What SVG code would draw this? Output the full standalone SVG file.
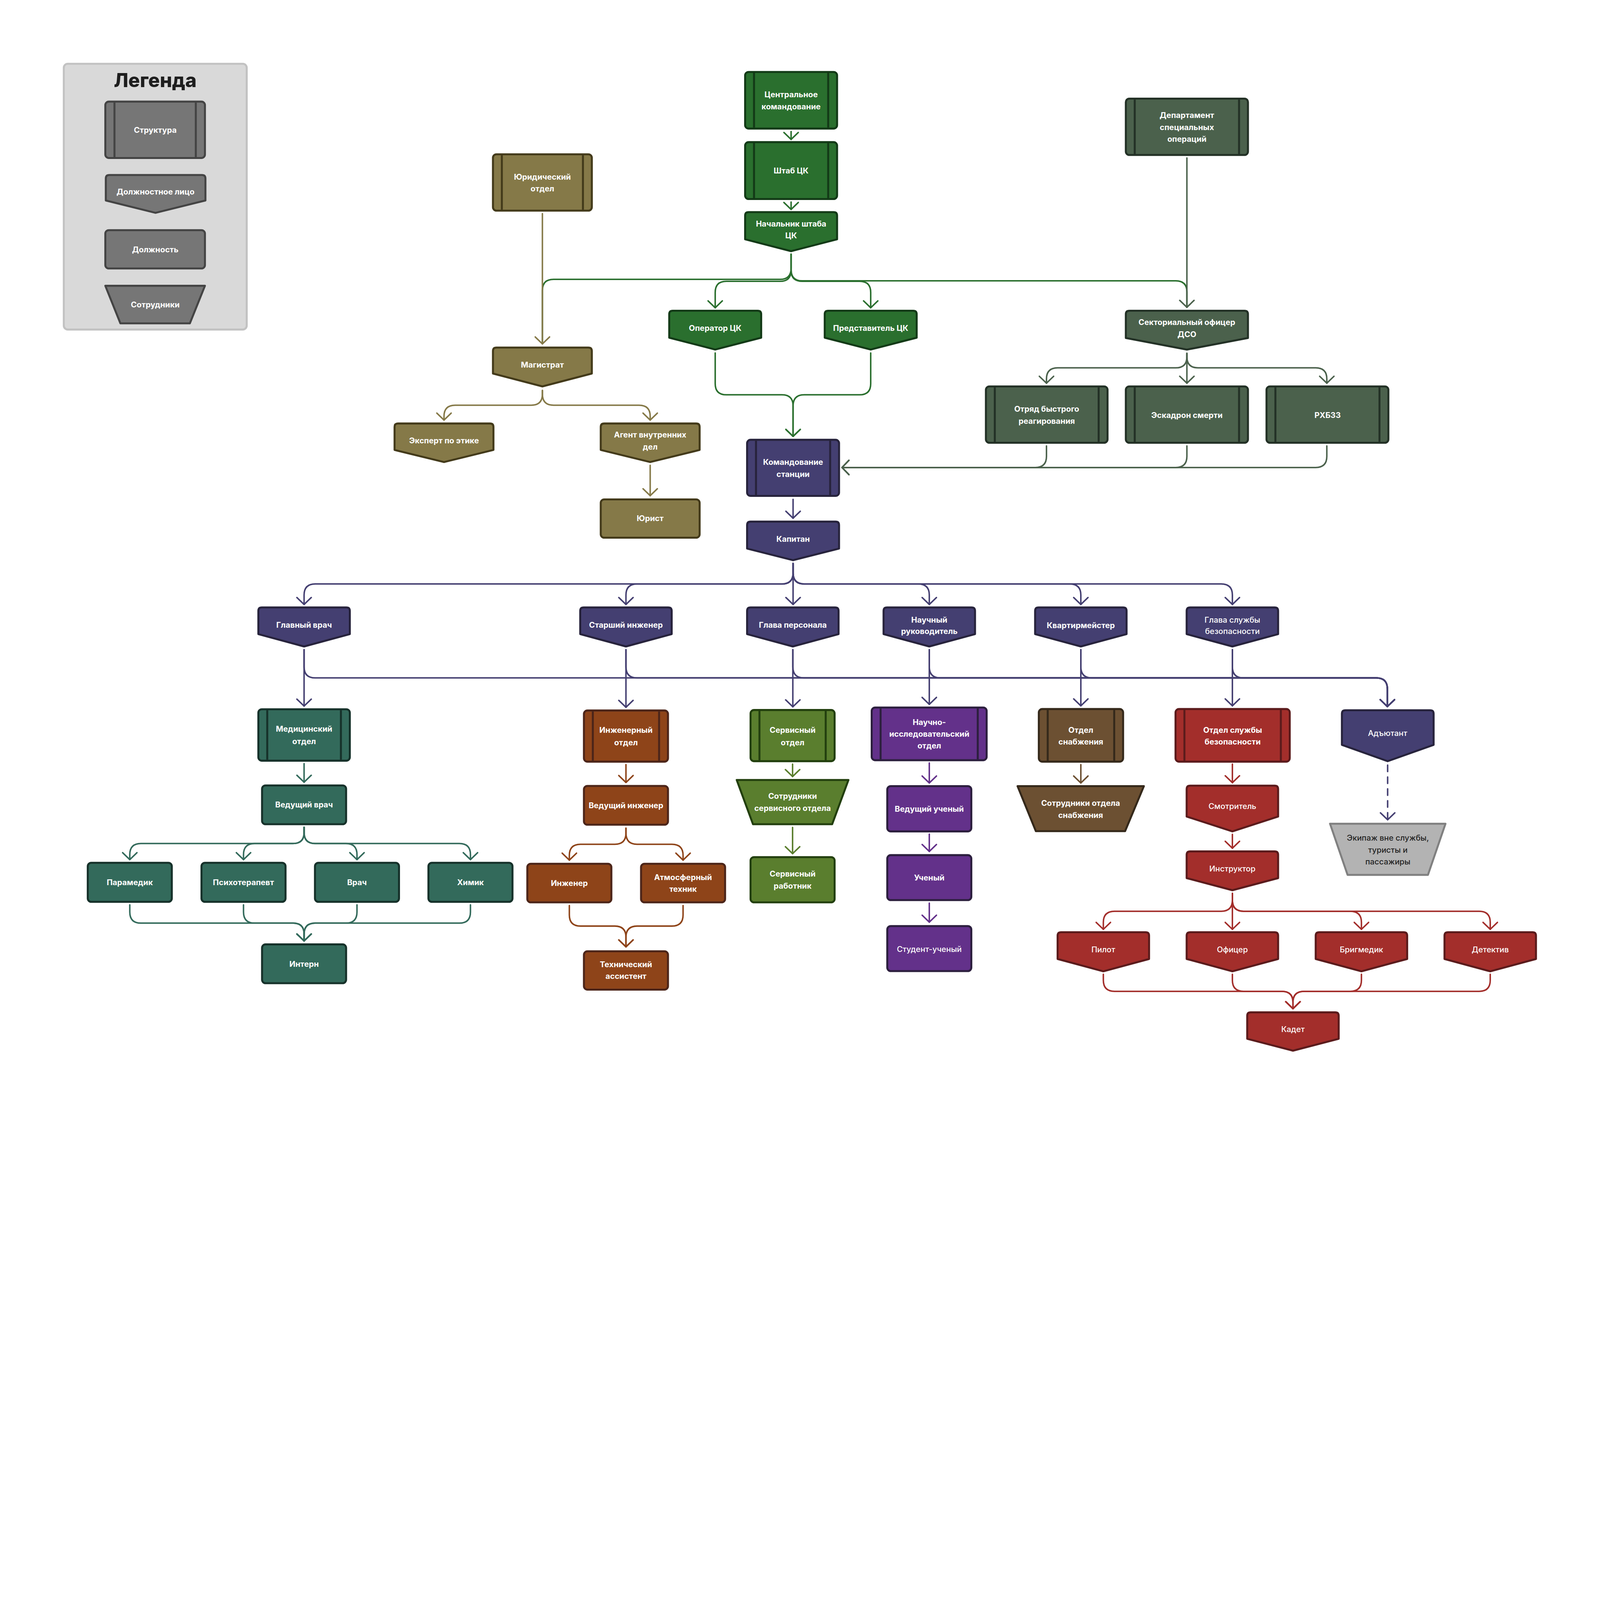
<svg xmlns="http://www.w3.org/2000/svg" width="6472" height="4509" viewBox="0 0 6472 4509" preserveAspectRatio="xMinYMin meet" style="width:100vw;height:100vh;display:block">
<style>
.t{font-family:Inter,"Noto Sans","Liberation Sans",sans-serif;font-size:32px;font-weight:700;fill:#fff;text-anchor:middle}
.r{font-weight:500}
.d{fill:#222222}
.s{stroke-width:8;stroke-linejoin:round}
.c{fill:none;stroke-width:6;stroke-linecap:round;stroke-linejoin:round}
.gA{fill:#2a6f2e;stroke:#133a17}
.gB{fill:#4b614c;stroke:#233126}
.gC{fill:#857948;stroke:#433a1a}
.gD{fill:#443f71;stroke:#27233c}
.gE{fill:#336a5b;stroke:#16312a}
.gF{fill:#8e4419;stroke:#4c2519}
.gG{fill:#5a7e2e;stroke:#223f0e}
.gH{fill:#63318a;stroke:#2c1f3e}
.gI{fill:#6c5032;stroke:#35291b}
.gJ{fill:#a32e2b;stroke:#5b1b1c}
.gL{fill:#767676;stroke:#444444}
.gK{fill:#b3b3b3;stroke:#808080}
.kA{stroke:#2a6f2e}.kB{stroke:#4b614c}.kC{stroke:#857948}.kD{stroke:#443f71}.kE{stroke:#336a5b}
.kF{stroke:#8e4419}.kG{stroke:#5a7e2e}.kH{stroke:#63318a}.kI{stroke:#6c5032}.kJ{stroke:#a32e2b}
</style>
<defs>
<marker id="mA" markerUnits="userSpaceOnUse" markerWidth="80" markerHeight="80" viewBox="-40 -40 80 80" refX="0" refY="0" orient="auto" overflow="visible"><path d="M-28 -29L0 0L-28 29" fill="none" stroke="#2a6f2e" stroke-width="6" stroke-linecap="round" stroke-linejoin="round"/></marker>
<marker id="mB" markerUnits="userSpaceOnUse" markerWidth="80" markerHeight="80" viewBox="-40 -40 80 80" refX="0" refY="0" orient="auto" overflow="visible"><path d="M-28 -29L0 0L-28 29" fill="none" stroke="#4b614c" stroke-width="6" stroke-linecap="round" stroke-linejoin="round"/></marker>
<marker id="mC" markerUnits="userSpaceOnUse" markerWidth="80" markerHeight="80" viewBox="-40 -40 80 80" refX="0" refY="0" orient="auto" overflow="visible"><path d="M-28 -29L0 0L-28 29" fill="none" stroke="#857948" stroke-width="6" stroke-linecap="round" stroke-linejoin="round"/></marker>
<marker id="mD" markerUnits="userSpaceOnUse" markerWidth="80" markerHeight="80" viewBox="-40 -40 80 80" refX="0" refY="0" orient="auto" overflow="visible"><path d="M-28 -29L0 0L-28 29" fill="none" stroke="#443f71" stroke-width="6" stroke-linecap="round" stroke-linejoin="round"/></marker>
<marker id="mE" markerUnits="userSpaceOnUse" markerWidth="80" markerHeight="80" viewBox="-40 -40 80 80" refX="0" refY="0" orient="auto" overflow="visible"><path d="M-28 -29L0 0L-28 29" fill="none" stroke="#336a5b" stroke-width="6" stroke-linecap="round" stroke-linejoin="round"/></marker>
<marker id="mF" markerUnits="userSpaceOnUse" markerWidth="80" markerHeight="80" viewBox="-40 -40 80 80" refX="0" refY="0" orient="auto" overflow="visible"><path d="M-28 -29L0 0L-28 29" fill="none" stroke="#8e4419" stroke-width="6" stroke-linecap="round" stroke-linejoin="round"/></marker>
<marker id="mG" markerUnits="userSpaceOnUse" markerWidth="80" markerHeight="80" viewBox="-40 -40 80 80" refX="0" refY="0" orient="auto" overflow="visible"><path d="M-28 -29L0 0L-28 29" fill="none" stroke="#5a7e2e" stroke-width="6" stroke-linecap="round" stroke-linejoin="round"/></marker>
<marker id="mH" markerUnits="userSpaceOnUse" markerWidth="80" markerHeight="80" viewBox="-40 -40 80 80" refX="0" refY="0" orient="auto" overflow="visible"><path d="M-28 -29L0 0L-28 29" fill="none" stroke="#63318a" stroke-width="6" stroke-linecap="round" stroke-linejoin="round"/></marker>
<marker id="mI" markerUnits="userSpaceOnUse" markerWidth="80" markerHeight="80" viewBox="-40 -40 80 80" refX="0" refY="0" orient="auto" overflow="visible"><path d="M-28 -29L0 0L-28 29" fill="none" stroke="#6c5032" stroke-width="6" stroke-linecap="round" stroke-linejoin="round"/></marker>
<marker id="mJ" markerUnits="userSpaceOnUse" markerWidth="80" markerHeight="80" viewBox="-40 -40 80 80" refX="0" refY="0" orient="auto" overflow="visible"><path d="M-28 -29L0 0L-28 29" fill="none" stroke="#a32e2b" stroke-width="6" stroke-linecap="round" stroke-linejoin="round"/></marker>
</defs>
<rect width="6472" height="4509" fill="#ffffff"/>

<g id="legend">
<rect x="258" y="258" width="740" height="1075" rx="16" fill="#d9d9d9" stroke="#c2c2c2" stroke-width="8"/>
<text x="628" y="352" class="t" style="font-size:78px;font-weight:800;fill:#1e1e1e">Легенда</text>
<rect class="s gL" x="426" y="411" width="403" height="228" rx="14"/>
<path class="s gL" d="M463 411V639M792 411V639"/>
<text class="t" x="628" y="537">Структура</text>
<path class="s gL" d="M428 722Q428 708 442 708H817Q831 708 831 722V811L629 861L428 811Z"/>
<text class="t" x="629" y="787">Должностное лицо</text>
<rect class="s gL" x="426" y="931" width="403" height="155" rx="14"/>
<text class="t" x="628" y="1020">Должность</text>
<path class="s gL" d="M426 1156H829L768 1308H487Z"/>
<text class="t" x="628" y="1244">Сотрудники</text>
</g>

<g id="connectors">
<path class="c kA" d="M3200 1028V1085Q3200 1130 3155 1130H2239Q2194 1130 2194 1175V1391"/>
<path class="c kA" d="M3200 1028V1091Q3200 1136 3245 1136H4756Q4801 1136 4801 1181V1243"/>
<path class="c kA" marker-end="url(#mA)" d="M3200 532V564"/>
<path class="c kA" marker-end="url(#mA)" d="M3200 817V847"/>
<path class="c kA" marker-end="url(#mA)" d="M3200 1028V1093Q3200 1138 3155 1138H2938Q2893 1138 2893 1183V1245"/>
<path class="c kA" marker-end="url(#mA)" d="M3200 1028V1093Q3200 1138 3245 1138H3477Q3522 1138 3522 1183V1245"/>
<path class="c kA" marker-end="url(#mA)" d="M2893 1428V1552Q2893 1597 2938 1597H3163Q3208 1597 3208 1642V1765"/>
<path class="c kA" marker-end="url(#mA)" d="M3522 1428V1552Q3522 1597 3477 1597H3253Q3208 1597 3208 1642V1765"/>

<path class="c kB" marker-end="url(#mB)" d="M4801 639V1243"/>
<path class="c kB" marker-end="url(#mB)" d="M4801 1429V1443Q4801 1488 4756 1488H4278Q4233 1488 4233 1533V1550"/>
<path class="c kB" marker-end="url(#mB)" d="M4801 1429V1550"/>
<path class="c kB" marker-end="url(#mB)" d="M4801 1429V1443Q4801 1488 4846 1488H5322Q5367 1488 5367 1533V1550"/>
<path class="c kB" marker-end="url(#mB)" d="M4233 1804V1846Q4233 1891 4188 1891H3406"/>
<path class="c kB" marker-end="url(#mB)" d="M4801 1804V1846Q4801 1891 4756 1891H3406"/>
<path class="c kB" marker-end="url(#mB)" d="M5367 1804V1846Q5367 1891 5322 1891H3406"/>

<path class="c kC" marker-end="url(#mC)" d="M2194 864V1391"/>
<path class="c kC" marker-end="url(#mC)" d="M2194 1579V1594Q2194 1639 2149 1639H1841Q1796 1639 1796 1684V1699"/>
<path class="c kC" marker-end="url(#mC)" d="M2194 1579V1594Q2194 1639 2239 1639H2585Q2630 1639 2630 1684V1699"/>
<path class="c kC" marker-end="url(#mC)" d="M2630 1882V2005"/>

<path class="c kD" marker-end="url(#mD)" d="M3208 2020V2096"/>
<path class="c kD" marker-end="url(#mD)" d="M3208 2279V2317Q3208 2362 3163 2362H1275Q1230 2362 1230 2407V2445"/>
<path class="c kD" marker-end="url(#mD)" d="M3208 2279V2317Q3208 2362 3163 2362H2577Q2532 2362 2532 2407V2445"/>
<path class="c kD" marker-end="url(#mD)" d="M3208 2279V2445"/>
<path class="c kD" marker-end="url(#mD)" d="M3208 2279V2317Q3208 2362 3253 2362H3714Q3759 2362 3759 2407V2445"/>
<path class="c kD" marker-end="url(#mD)" d="M3208 2279V2317Q3208 2362 3253 2362H4327Q4372 2362 4372 2407V2445"/>
<path class="c kD" marker-end="url(#mD)" d="M3208 2279V2317Q3208 2362 3253 2362H4940Q4985 2362 4985 2407V2445"/>
<path class="c kD" marker-end="url(#mD)" d="M1230 2628V2856"/>
<path class="c kD" marker-end="url(#mD)" d="M2532 2628V2861"/>
<path class="c kD" marker-end="url(#mD)" d="M3207 2628V2859"/>
<path class="c kD" marker-end="url(#mD)" d="M3759 2628V2849"/>
<path class="c kD" marker-end="url(#mD)" d="M4372 2628V2855"/>
<path class="c kD" marker-end="url(#mD)" d="M4985 2628V2855"/>
<path class="c kD" marker-end="url(#mD)" d="M1230 2628V2697Q1230 2742 1275 2742H5567Q5612 2742 5612 2787V2858"/>
<path class="c kD" marker-end="url(#mD)" d="M2532 2628V2697Q2532 2742 2577 2742H5567Q5612 2742 5612 2787V2858"/>
<path class="c kD" marker-end="url(#mD)" d="M3207 2628V2697Q3207 2742 3252 2742H5567Q5612 2742 5612 2787V2858"/>
<path class="c kD" marker-end="url(#mD)" d="M3759 2628V2697Q3759 2742 3804 2742H5567Q5612 2742 5612 2787V2858"/>
<path class="c kD" marker-end="url(#mD)" d="M4372 2628V2697Q4372 2742 4417 2742H5567Q5612 2742 5612 2787V2858"/>
<path class="c kD" marker-end="url(#mD)" d="M4985 2628V2697Q4985 2742 5030 2742H5567Q5612 2742 5612 2787V2858"/>
<path class="c kD" marker-end="url(#mD)" stroke-dasharray="26 22" d="M5613 3095V3316"/>

<path class="c kE" marker-end="url(#mE)" d="M1230 3089V3164"/>
<path class="c kE" marker-end="url(#mE)" d="M1230 3346V3367Q1230 3412 1185 3412H570Q525 3412 525 3457V3477"/>
<path class="c kE" marker-end="url(#mE)" d="M1230 3346V3367Q1230 3412 1185 3412H1030Q985 3412 985 3457V3477"/>
<path class="c kE" marker-end="url(#mE)" d="M1230 3346V3367Q1230 3412 1275 3412H1399Q1444 3412 1444 3457V3477"/>
<path class="c kE" marker-end="url(#mE)" d="M1230 3346V3367Q1230 3412 1275 3412H1858Q1903 3412 1903 3457V3477"/>
<path class="c kE" marker-end="url(#mE)" d="M525 3660V3689Q525 3734 570 3734H1185Q1230 3734 1230 3779V3806"/>
<path class="c kE" marker-end="url(#mE)" d="M985 3660V3689Q985 3734 1030 3734H1185Q1230 3734 1230 3779V3806"/>
<path class="c kE" marker-end="url(#mE)" d="M1444 3660V3689Q1444 3734 1399 3734H1275Q1230 3734 1230 3779V3806"/>
<path class="c kE" marker-end="url(#mE)" d="M1903 3660V3689Q1903 3734 1858 3734H1275Q1230 3734 1230 3779V3806"/>

<path class="c kF" marker-end="url(#mF)" d="M2532 3093V3165"/>
<path class="c kF" marker-end="url(#mF)" d="M2532 3350V3370Q2532 3415 2487 3415H2348Q2303 3415 2303 3460V3479"/>
<path class="c kF" marker-end="url(#mF)" d="M2532 3350V3370Q2532 3415 2577 3415H2718Q2763 3415 2763 3460V3479"/>
<path class="c kF" marker-end="url(#mF)" d="M2303 3663V3701Q2303 3746 2348 3746H2487Q2532 3746 2532 3791V3830"/>
<path class="c kF" marker-end="url(#mF)" d="M2763 3663V3701Q2763 3746 2718 3746H2577Q2532 3746 2532 3791V3830"/>

<path class="c kG" marker-end="url(#mG)" d="M3206 3091V3141"/>
<path class="c kG" marker-end="url(#mG)" d="M3206 3347V3453"/>

<path class="c kH" marker-end="url(#mH)" d="M3759 3086V3167"/>
<path class="c kH" marker-end="url(#mH)" d="M3759 3374V3444"/>
<path class="c kH" marker-end="url(#mH)" d="M3759 3653V3730"/>

<path class="c kI" marker-end="url(#mI)" d="M4372 3093V3167"/>

<path class="c kJ" marker-end="url(#mJ)" d="M4985 3091V3166"/>
<path class="c kJ" marker-end="url(#mJ)" d="M4985 3375V3431"/>
<path class="c kJ" marker-end="url(#mJ)" d="M4985 3614V3641Q4985 3686 4940 3686H4508Q4463 3686 4463 3731V3759"/>
<path class="c kJ" marker-end="url(#mJ)" d="M4985 3614V3759"/>
<path class="c kJ" marker-end="url(#mJ)" d="M4985 3614V3641Q4985 3686 5030 3686H5462Q5507 3686 5507 3731V3759"/>
<path class="c kJ" marker-end="url(#mJ)" d="M4985 3614V3641Q4985 3686 5030 3686H5983Q6028 3686 6028 3731V3759"/>
<path class="c kJ" marker-end="url(#mJ)" d="M4463 3941V3965Q4463 4010 4508 4010H5185Q5230 4010 5230 4055V4080"/>
<path class="c kJ" marker-end="url(#mJ)" d="M4985 3941V3965Q4985 4010 5030 4010H5185Q5230 4010 5230 4055V4080"/>
<path class="c kJ" marker-end="url(#mJ)" d="M5507 3941V3965Q5507 4010 5462 4010H5275Q5230 4010 5230 4055V4080"/>
<path class="c kJ" marker-end="url(#mJ)" d="M6028 3941V3965Q6028 4010 5983 4010H5275Q5230 4010 5230 4055V4080"/>
</g>

<g id="central-command"><rect class="s gA" x="3014" y="291" width="372" height="229" rx="14"/><path class="s gA" d="M3050 291V520M3350 291V520"/><text class="t" x="3200" y="393">Центральное</text><text class="t" x="3200" y="442">командование</text></g>
<g id="cc-staff"><rect class="s gA" x="3014" y="575" width="372" height="230" rx="14"/><path class="s gA" d="M3050 575V805M3350 575V805"/><text class="t" x="3200" y="702">Штаб ЦК</text></g>
<g id="cc-chief-of-staff"><path class="s gA" d="M3014 872Q3014 858 3028 858H3372Q3386 858 3386 872V968L3200 1016L3014 968Z"/><text class="t" x="3200" y="916">Начальник штаба</text><text class="t" x="3200" y="964">ЦК</text></g>
<g id="cc-operator"><path class="s gA" d="M2707 1271Q2707 1257 2721 1257H3065Q3079 1257 3079 1271V1366L2893 1414L2707 1366Z"/><text class="t" x="2893" y="1338">Оператор ЦК</text></g>
<g id="cc-representative"><path class="s gA" d="M3336 1271Q3336 1257 3350 1257H3694Q3708 1257 3708 1271V1366L3522 1414L3336 1366Z"/><text class="t" x="3522" y="1338">Представитель ЦК</text></g>

<g id="dso"><rect class="s gB" x="4554" y="399" width="494" height="228" rx="14"/><path class="s gB" d="M4590 399V627M5012 399V627"/><text class="t" x="4801" y="477">Департамент</text><text class="t" x="4801" y="526">специальных</text><text class="t" x="4801" y="574">операций</text></g>
<g id="dso-officer"><path class="s gB" d="M4554 1271Q4554 1257 4568 1257H5034Q5048 1257 5048 1271V1367L4801 1414L4554 1367Z"/><text class="t" x="4801" y="1314">Секториальный офицер</text><text class="t" x="4801" y="1363">ДСО</text></g>
<g id="rapid-response"><rect class="s gB" x="3988" y="1563" width="492" height="228" rx="14"/><path class="s gB" d="M4024 1563V1791M4444 1563V1791"/><text class="t" x="4234" y="1665">Отряд быстрого</text><text class="t" x="4234" y="1714">реагирования</text></g>
<g id="death-squad"><rect class="s gB" x="4554" y="1563" width="494" height="228" rx="14"/><path class="s gB" d="M4590 1563V1791M5012 1563V1791"/><text class="t" x="4801" y="1690">Эскадрон смерти</text></g>
<g id="rhbz"><rect class="s gB" x="5123" y="1563" width="493" height="228" rx="14"/><path class="s gB" d="M5159 1563V1791M5580 1563V1791"/><text class="t" x="5370" y="1690">РХБЗЗ</text></g>

<g id="legal-dept"><rect class="s gC" x="1994" y="624" width="400" height="228" rx="14"/><path class="s gC" d="M2030 624V852M2358 624V852"/><text class="t" x="2194" y="727">Юридический</text><text class="t" x="2194" y="774">отдел</text></g>
<g id="magistrate"><path class="s gC" d="M1994 1420Q1994 1406 2008 1406H2380Q2394 1406 2394 1420V1511L2194 1563L1994 1511Z"/><text class="t" x="2194" y="1487">Магистрат</text></g>
<g id="ethics-expert"><path class="s gC" d="M1596 1727Q1596 1713 1610 1713H1982Q1996 1713 1996 1727V1820L1796 1869L1596 1820Z"/><text class="t" x="1796" y="1794">Эксперт по этике</text></g>
<g id="ia-agent"><path class="s gC" d="M2430 1727Q2430 1713 2444 1713H2816Q2830 1713 2830 1727V1820L2630 1869L2430 1820Z"/><text class="t" x="2630" y="1770">Агент внутренних</text><text class="t" x="2630" y="1818">дел</text></g>
<g id="lawyer"><rect class="s gC" x="2430" y="2020" width="400" height="155" rx="14"/><text class="t" x="2630" y="2108">Юрист</text></g>

<g id="station-command"><rect class="s gD" x="3022" y="1779" width="372" height="227" rx="14"/><path class="s gD" d="M3058 1779V2006M3358 1779V2006"/><text class="t" x="3208" y="1881">Командование</text><text class="t" x="3208" y="1930">станции</text></g>
<g id="captain"><path class="s gD" d="M3022 2124Q3022 2110 3036 2110H3380Q3394 2110 3394 2124V2219L3208 2266L3022 2219Z"/><text class="t" x="3208" y="2191">Капитан</text></g>

<g id="cmo"><path class="s gD" d="M1045 2471Q1045 2457 1059 2457H1401Q1415 2457 1415 2471V2565L1230 2615L1045 2565Z"/><text class="t" x="1230" y="2539">Главный врач</text></g>
<g id="ce"><path class="s gD" d="M2347 2471Q2347 2457 2361 2457H2703Q2717 2457 2717 2471V2565L2532 2615L2347 2565Z"/><text class="t" x="2532" y="2539">Старший инженер</text></g>
<g id="hop"><path class="s gD" d="M3022 2471Q3022 2457 3036 2457H3378Q3392 2457 3392 2471V2565L3207 2615L3022 2565Z"/><text class="t" x="3207" y="2539">Глава персонала</text></g>
<g id="rd"><path class="s gD" d="M3574 2471Q3574 2457 3588 2457H3930Q3944 2457 3944 2471V2565L3759 2615L3574 2565Z"/><text class="t" x="3759" y="2518">Научный</text><text class="t" x="3759" y="2565">руководитель</text></g>
<g id="qm"><path class="s gD" d="M4187 2471Q4187 2457 4201 2457H4543Q4557 2457 4557 2471V2565L4372 2615L4187 2565Z"/><text class="t" x="4372" y="2540">Квартирмейстер</text></g>
<g id="hos"><path class="s gD" d="M4800 2471Q4800 2457 4814 2457H5156Q5170 2457 5170 2471V2565L4985 2615L4800 2565Z"/><text class="t r" x="4985" y="2518">Глава службы</text><text class="t r" x="4985" y="2565">безопасности</text></g>

<g id="medical-dept"><rect class="s gE" x="1045" y="2869" width="370" height="208" rx="14"/><path class="s gE" d="M1081 2869V3077M1379 2869V3077"/><text class="t" x="1230" y="2960">Медицинский</text><text class="t" x="1230" y="3010">отдел</text></g>
<g id="engineering-dept"><rect class="s gF" x="2362" y="2874" width="340" height="207" rx="14"/><path class="s gF" d="M2398 2874V3081M2666 2874V3081"/><text class="t" x="2532" y="2965">Инженерный</text><text class="t" x="2532" y="3014">отдел</text></g>
<g id="service-dept"><rect class="s gG" x="3036" y="2872" width="340" height="207" rx="14"/><path class="s gG" d="M3072 2872V3079M3340 2872V3079"/><text class="t" x="3206" y="2964">Сервисный</text><text class="t" x="3206" y="3014">отдел</text></g>
<g id="science-dept"><rect class="s gH" x="3526" y="2862" width="465" height="213" rx="14"/><path class="s gH" d="M3562 2862V3075M3955 2862V3075"/><text class="t" x="3759" y="2932">Научно-</text><text class="t" x="3759" y="2980">исследовательский</text><text class="t" x="3759" y="3028">отдел</text></g>
<g id="supply-dept"><rect class="s gI" x="4202" y="2868" width="341" height="213" rx="14"/><path class="s gI" d="M4238 2868V3081M4507 2868V3081"/><text class="t" x="4372" y="2964">Отдел</text><text class="t" x="4372" y="3011">снабжения</text></g>
<g id="security-dept"><rect class="s gJ" x="4755" y="2868" width="462" height="213" rx="14"/><path class="s gJ" d="M4791 2868V3081M5181 2868V3081"/><text class="t" x="4986" y="2964">Отдел службы</text><text class="t" x="4986" y="3012">безопасности</text></g>
<g id="adjutant"><path class="s gD" d="M5428 2887Q5428 2873 5442 2873H5785Q5799 2873 5799 2887V3013L5613 3079L5428 3013Z"/><text class="t r" x="5613" y="2977">Адъютант</text></g>

<g id="lead-doctor"><rect class="s gE" x="1060" y="3177" width="340" height="157" rx="14"/><text class="t" x="1230" y="3266">Ведущий врач</text></g>
<g id="paramedic"><rect class="s gE" x="355" y="3490" width="340" height="158" rx="14"/><text class="t" x="525" y="3580">Парамедик</text></g>
<g id="psychotherapist"><rect class="s gE" x="815" y="3490" width="340" height="158" rx="14"/><text class="t" x="985" y="3580">Психотерапевт</text></g>
<g id="doctor"><rect class="s gE" x="1274" y="3490" width="340" height="158" rx="14"/><text class="t" x="1444" y="3580">Врач</text></g>
<g id="chemist"><rect class="s gE" x="1733" y="3490" width="340" height="158" rx="14"/><text class="t" x="1903" y="3580">Химик</text></g>
<g id="intern"><rect class="s gE" x="1060" y="3820" width="340" height="157" rx="14"/><text class="t" x="1230" y="3911">Интерн</text></g>

<g id="lead-engineer"><rect class="s gF" x="2362" y="3179" width="340" height="157" rx="14"/><text class="t" x="2532" y="3269">Ведущий инженер</text></g>
<g id="engineer"><rect class="s gF" x="2133" y="3494" width="340" height="156" rx="14"/><text class="t" x="2303" y="3584">Инженер</text></g>
<g id="atmos-tech"><rect class="s gF" x="2593" y="3494" width="340" height="156" rx="14"/><text class="t" x="2763" y="3560">Атмосферный</text><text class="t" x="2763" y="3608">техник</text></g>
<g id="tech-assistant"><rect class="s gF" x="2362" y="3848" width="340" height="155" rx="14"/><text class="t" x="2532" y="3912">Технический</text><text class="t" x="2532" y="3960">ассистент</text></g>

<g id="service-staff"><path class="s gG" d="M2980 3155H3432L3366 3334H3046Z"/><text class="t" x="3206" y="3232">Сотрудники</text><text class="t" x="3206" y="3280">сервисного отдела</text></g>
<g id="service-worker"><rect class="s gG" x="3036" y="3467" width="340" height="183" rx="14"/><text class="t" x="3206" y="3546">Сервисный</text><text class="t" x="3206" y="3594">работник</text></g>

<g id="lead-scientist"><rect class="s gH" x="3589" y="3180" width="340" height="183" rx="14"/><text class="t" x="3759" y="3284">Ведущий ученый</text></g>
<g id="scientist"><rect class="s gH" x="3589" y="3459" width="340" height="182" rx="14"/><text class="t" x="3759" y="3561">Ученый</text></g>
<g id="student-scientist"><rect class="s gH" x="3589" y="3746" width="340" height="182" rx="14"/><text class="t r" x="3759" y="3850">Студент-ученый</text></g>

<g id="supply-staff"><path class="s gI" d="M4116 3180H4627L4551 3362H4190Z"/><text class="t" x="4371" y="3259">Сотрудники отдела</text><text class="t" x="4371" y="3308">снабжения</text></g>

<g id="warden"><path class="s gJ" d="M4800 3192Q4800 3178 4814 3178H5156Q5170 3178 5170 3192V3303L4985 3363L4800 3303Z"/><text class="t r" x="4985" y="3272">Смотритель</text></g>
<g id="instructor"><path class="s gJ" d="M4800 3458Q4800 3444 4814 3444H5156Q5170 3444 5170 3458V3552L4985 3601L4800 3552Z"/><text class="t r" x="4985" y="3525">Инструктор</text></g>
<g id="pilot"><path class="s gJ" d="M4278 3785Q4278 3771 4292 3771H4634Q4648 3771 4648 3785V3879L4463 3929L4278 3879Z"/><text class="t r" x="4463" y="3853">Пилот</text></g>
<g id="officer"><path class="s gJ" d="M4800 3785Q4800 3771 4814 3771H5156Q5170 3771 5170 3785V3879L4985 3929L4800 3879Z"/><text class="t r" x="4985" y="3853">Офицер</text></g>
<g id="brigmedic"><path class="s gJ" d="M5322 3785Q5322 3771 5336 3771H5678Q5692 3771 5692 3785V3879L5507 3929L5322 3879Z"/><text class="t r" x="5507" y="3853">Бригмедик</text></g>
<g id="detective"><path class="s gJ" d="M5843 3785Q5843 3771 5857 3771H6199Q6213 3771 6213 3785V3879L6028 3929L5843 3879Z"/><text class="t r" x="6028" y="3853">Детектив</text></g>
<g id="cadet"><path class="s gJ" d="M5045 4109Q5045 4095 5059 4095H5401Q5415 4095 5415 4109V4202L5230 4250L5045 4202Z"/><text class="t r" x="5230" y="4174">Кадет</text></g>

<g id="offduty-crew"><path class="s gK" d="M5380 3332H5847L5776 3539H5451Z"/><text class="t r d" x="5614" y="3401">Экипаж вне службы,</text><text class="t r d" x="5614" y="3449">туристы и</text><text class="t r d" x="5614" y="3497">пассажиры</text></g>
</svg>
